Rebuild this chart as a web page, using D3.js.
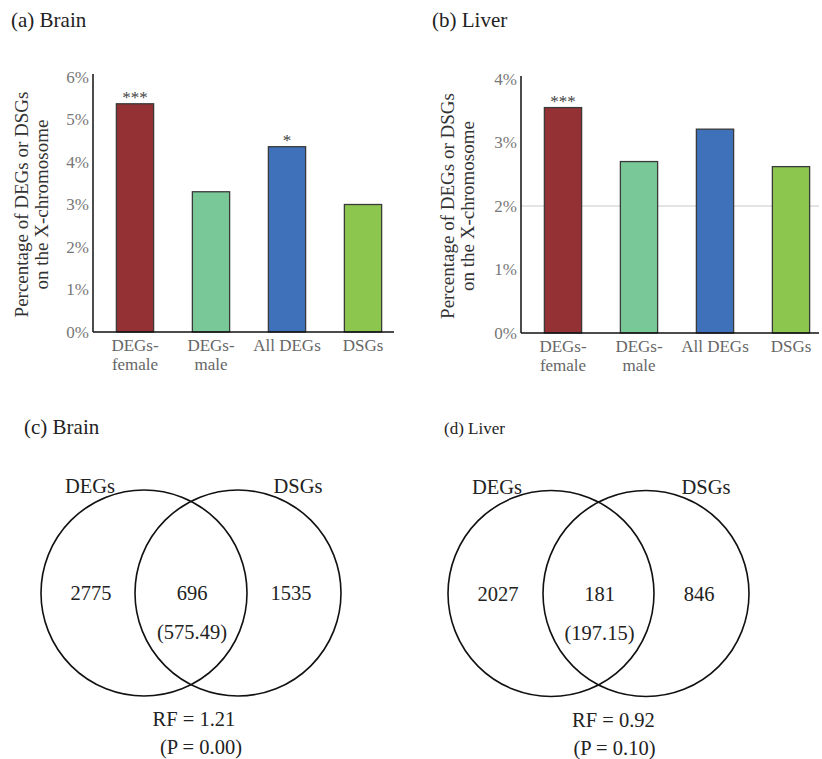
<!DOCTYPE html>
<html><head><meta charset="utf-8">
<script src="https://cdn.jsdelivr.net/npm/d3@7"></script>
<style>body{margin:0;background:#fff}svg{display:block}</style>
</head><body><svg id="c" width="822" height="759"></svg>
<script>
const categories = ["DEGs-female", "DEGs-male", "All DEGs", "DSGs"];
const catLines = [["DEGs-", "female"], ["DEGs-", "male"], ["All DEGs"], ["DSGs"]];
const brainValues = [5.37, 3.30, 4.36, 3.00];
const liverValues = [3.55, 2.70, 3.21, 2.62];
const brainStars = ["***", "", "*", ""];
const liverStars = ["***", "", "", ""];
const brainTicks = [0, 1, 2, 3, 4, 5, 6];
const liverTicks = [0, 1, 2, 3, 4];
const barColors = ["#943135", "#79C897", "#3F70BA", "#8DC64E"];
const vennBrain = {left: 2775, both: 696, expected: "575.49", right: 1535, rf: "1.21", p: "0.00"};
const vennLiver = {left: 2027, both: 181, expected: "197.15", right: 846, rf: "0.92", p: "0.10"};
const vennSets = ["DEGs", "DSGs"];

const FONT = "'Liberation Serif', 'Times New Roman', Tinos, 'DejaVu Serif', serif";
const svg = d3.select("#c").attr("font-family", FONT);

function barPanel(o) {
  const g = svg.append("g");
  const y = d3.scaleLinear().domain([0, o.max]).range([o.y0, o.y1]);
  const x = d3.scaleBand().domain(categories).range([o.ax + 4, o.ax + 4 + 76 * 4]).paddingInner(0.51).paddingOuter(0.255);
  g.append("text").attr("x", o.tx).attr("y", 27).attr("font-family", FONT).attr("font-size", 21).attr("fill", "#222").text(o.title);
  if (o.grid) o.grid.forEach(v => g.append("line").attr("x1", o.ax).attr("x2", o.axEnd).attr("y1", y(v)).attr("y2", y(v)).attr("stroke", "#c8c8c8").attr("stroke-width", 1));
  const yAxis = d3.axisLeft(y).tickValues(o.ticks).tickFormat(d => d + "%").tickSize(0).tickPadding(4);
  const ya = g.append("g").attr("transform", `translate(${o.ax},0)`).call(yAxis);
  ya.attr("font-family", FONT);
  ya.select(".domain").remove();
  ya.selectAll("text").attr("font-family", FONT).attr("font-size", 17).attr("fill", "#777");
  g.selectAll("rect.bar").data(o.values).enter().append("rect")
    .attr("x", (d, i) => x(categories[i])).attr("width", x.bandwidth())
    .attr("y", d => y(d)).attr("height", d => y(0) - y(d))
    .attr("fill", (d, i) => barColors[i]).attr("stroke", "#3a3a3a").attr("stroke-width", 1.3);
  g.selectAll("text.star").data(o.values).enter().append("text")
    .attr("x", (d, i) => x(categories[i]) + x.bandwidth() / 2).attr("y", d => y(d) - 1)
    .attr("text-anchor", "middle").attr("font-family", FONT).attr("font-size", 17).attr("fill", "#444")
    .text((d, i) => o.stars[i]);
  g.append("line").attr("x1", o.ax).attr("x2", o.ax).attr("y1", y(o.max) - 3).attr("y2", y(0)).attr("stroke", "#111").attr("stroke-width", 1.5);
  g.append("line").attr("x1", o.ax).attr("x2", o.axEnd).attr("y1", y(0)).attr("y2", y(0)).attr("stroke", "#111").attr("stroke-width", 1.5);
  categories.forEach((c, i) => {
    const cx = x(c) + x.bandwidth() / 2;
    catLines[i].forEach((l, j) => g.append("text").attr("x", cx).attr("y", o.y0 + 19 + j * 19)
      .attr("text-anchor", "middle").attr("font-family", FONT).attr("font-size", 17).attr("fill", "#666").text(l));
  });
  const yt = g.append("text").attr("transform", `translate(${o.ytx},${(o.y0 + o.y1) / 2}) rotate(-90)`).attr("text-anchor", "middle").attr("font-family", FONT).attr("font-size", 19).attr("fill", "#333");
  yt.append("tspan").attr("x", 0).attr("dy", 0).text("Percentage of DEGs or DSGs");
  yt.append("tspan").attr("x", 0).attr("dy", 20).text("on the X-chromosome");
}

barPanel({title: "(a) Brain", tx: 11, ax: 93, axEnd: 394, y0: 332, y1: 77, max: 6, ticks: brainTicks, values: brainValues, stars: brainStars, ytx: 28});
barPanel({title: "(b) Liver", tx: 432, ax: 521, axEnd: 819, y0: 333, y1: 79, max: 4, ticks: liverTicks, values: liverValues, stars: liverStars, ytx: 454, grid: [2]});

function venn(o, d) {
  const g = svg.append("g");
  g.append("text").attr("x", o.tx).attr("y", o.ty).attr("font-family", FONT).attr("font-size", o.tfs).attr("fill", "#222").text(o.title);
  [o.cl, o.cr].forEach(cx => g.append("circle").attr("cx", cx).attr("cy", o.cy).attr("r", 103).attr("fill", "none").attr("stroke", "#111").attr("stroke-width", 1.6));
  const mid = (o.cl + o.cr) / 2;
  const txt = (x, y, s) => g.append("text").attr("x", x).attr("y", y).attr("text-anchor", "middle").attr("dominant-baseline", "central").attr("font-family", FONT).attr("font-size", 20.5).attr("fill", "#222").text(s);
  txt(o.cl - 54, o.cy - 107, vennSets[0]);
  txt(o.cr + 60, o.cy - 107, vennSets[1]);
  txt(o.cl - 53, o.cy, d.left);
  txt(mid + 1, o.cy, d.both);
  txt(mid + 1, o.cy + 39, "(" + d.expected + ")");
  txt(o.cr + 53, o.cy, d.right);
  txt(mid + o.rfdx, o.cy + 126, "RF = " + d.rf);
  txt(mid + o.pdx, o.cy + 154, "(P = " + d.p + ")");
}
venn({title: "(c) Brain", tx: 24, ty: 434, tfs: 21, cl: 144, cr: 238, cy: 593, rfdx: 3, pdx: 10}, vennBrain);
venn({title: "(d) Liver", tx: 444, ty: 434, tfs: 17, cl: 551, cr: 646, cy: 593.5, rfdx: 15, pdx: 16}, vennLiver);
</script></body></html>
